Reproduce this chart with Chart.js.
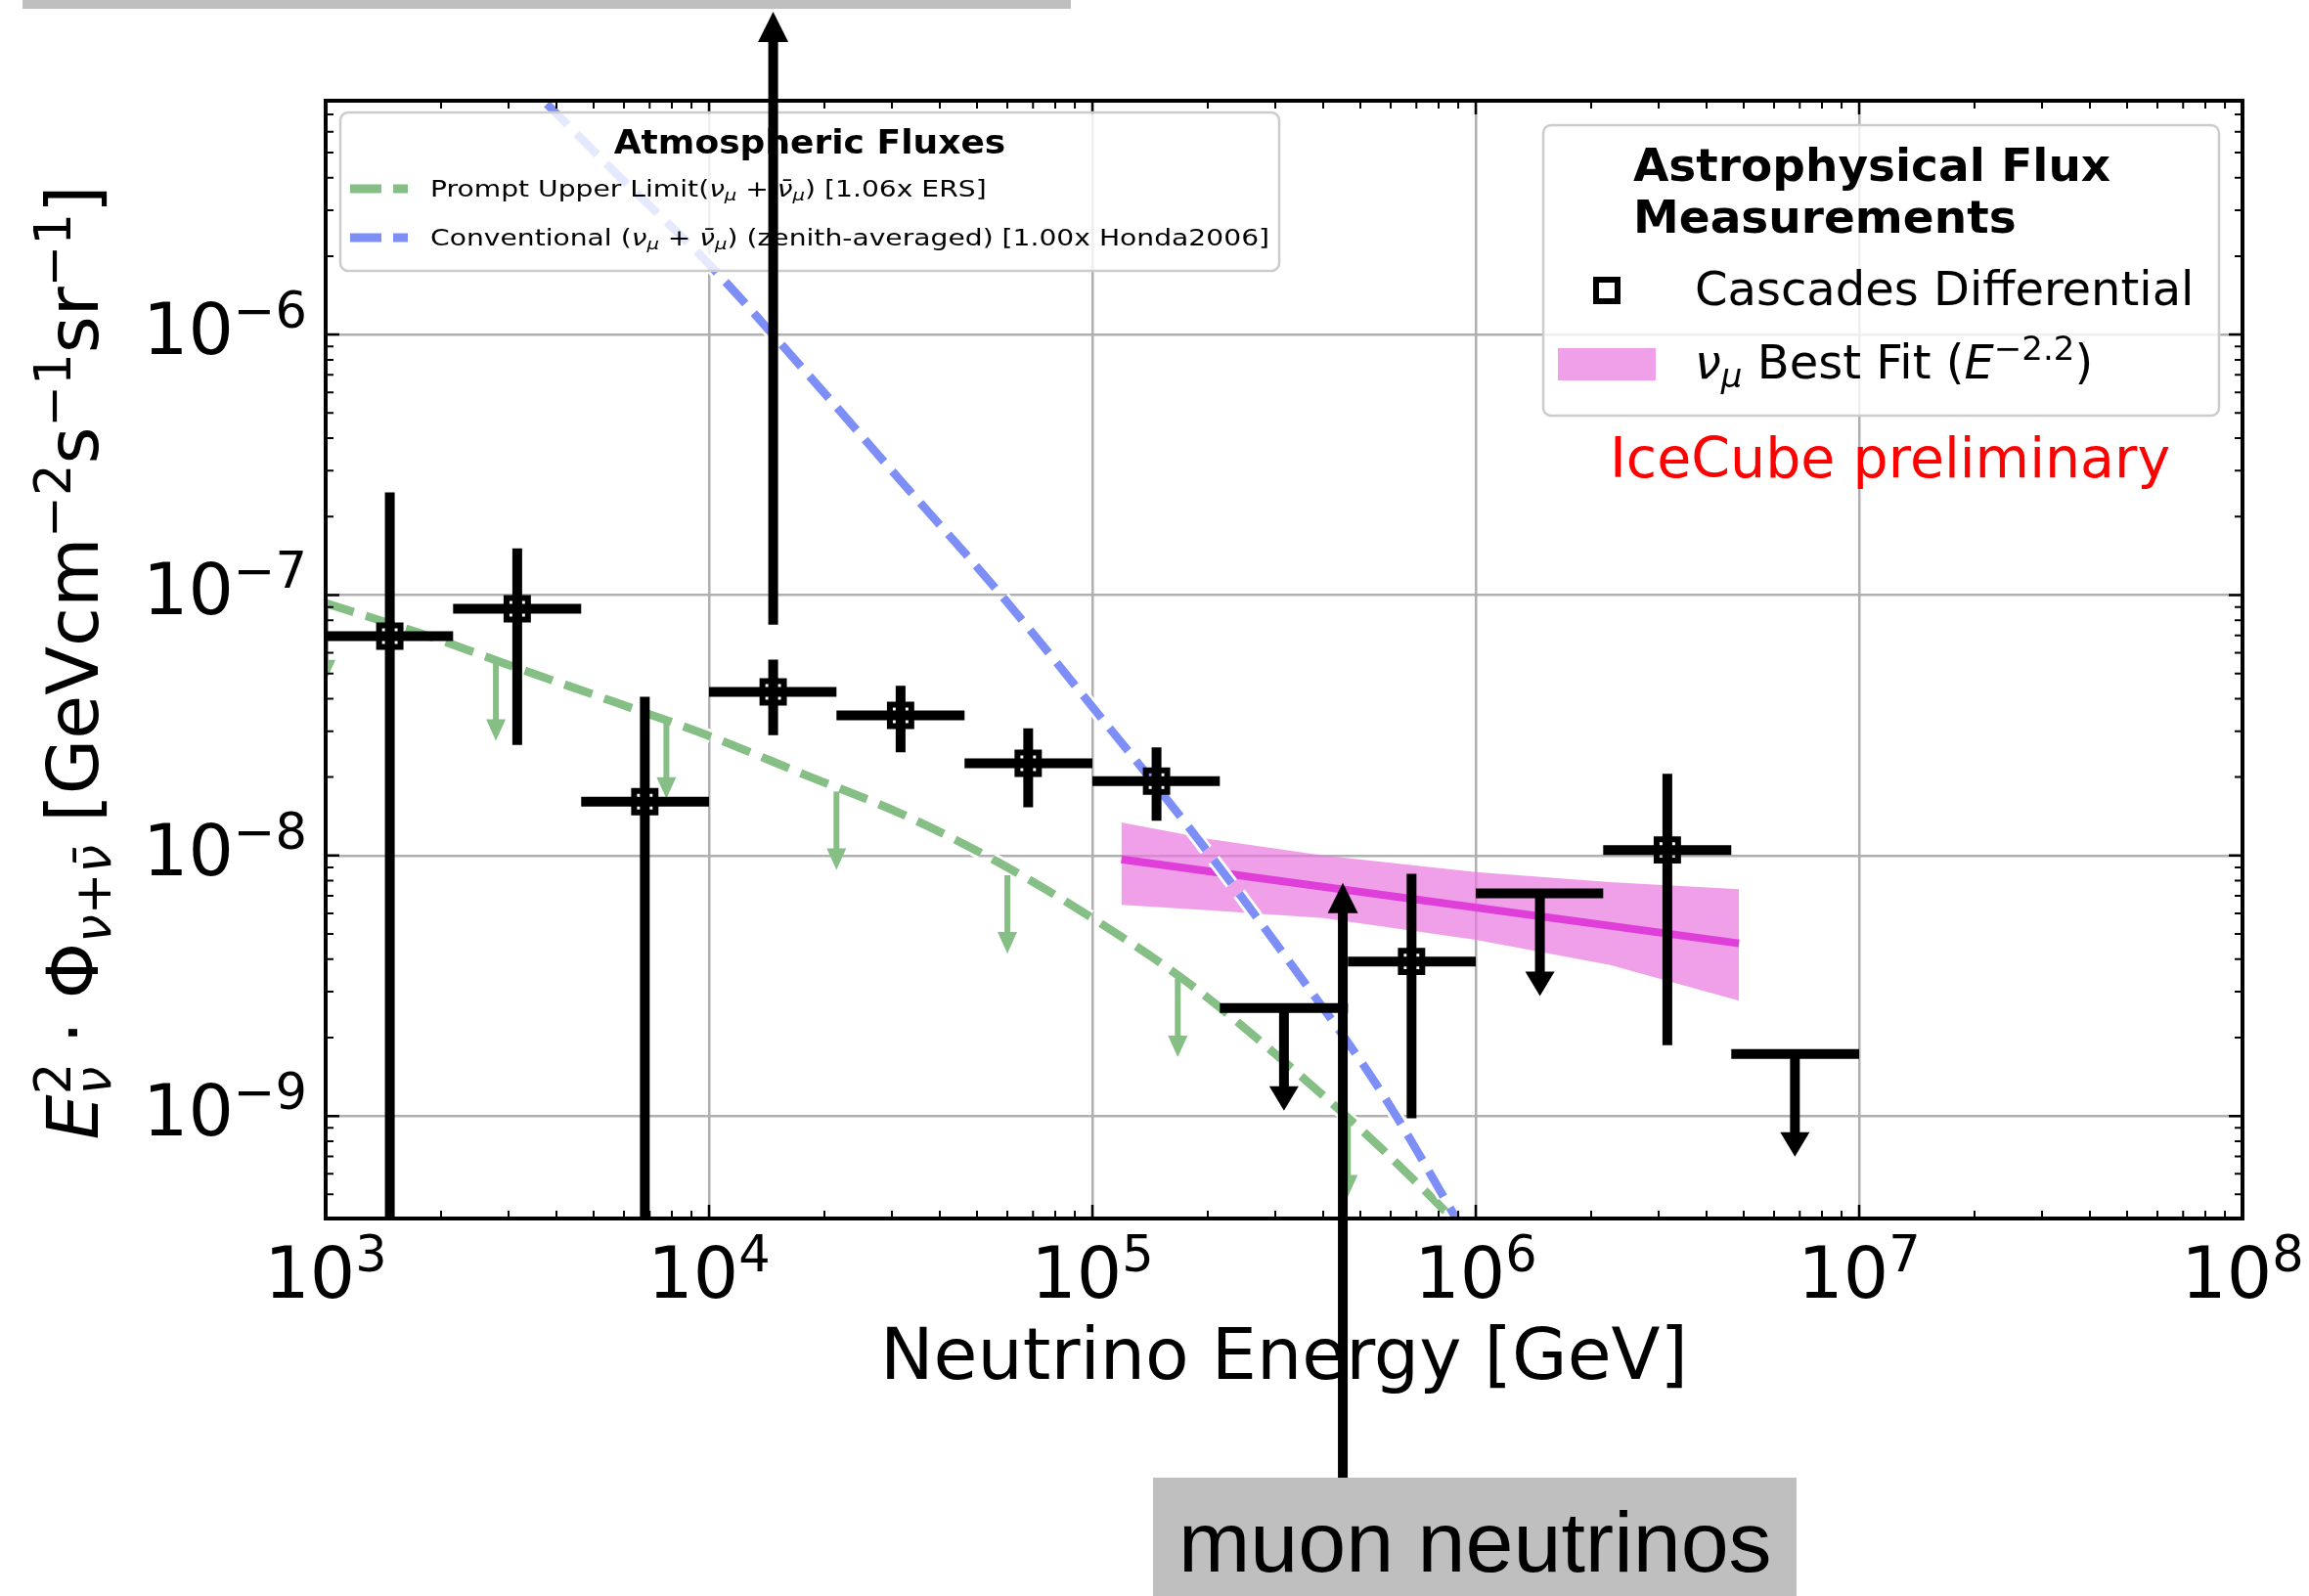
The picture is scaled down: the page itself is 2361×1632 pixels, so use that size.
<!DOCTYPE html>
<html>
<head>
<meta charset="utf-8">
<title>Astrophysical and atmospheric neutrino fluxes</title>
<script src="https://cdn.jsdelivr.net/npm/chart.js@4.4.1/dist/chart.umd.min.js"></script>
<style>
  html, body { margin: 0; padding: 0; background: #fff; }
  canvas { display: block; }
</style>
</head>
<body>
<canvas id="flux-chart" width="2361" height="1632"></canvas>
<script>
// Axis decades and their exponent labels
const xTickValues = [1e3, 1e4, 1e5, 1e6, 1e7, 1e8];
const xTickExponents = ['3', '4', '5', '6', '7', '8'];
const yTickValues = [1e-9, 1e-8, 1e-7, 1e-6];
const yTickExponents = ['\u22129', '\u22128', '\u22127', '\u22126'];

// Prompt atmospheric upper limit (green dashed) and its downward arrows
const promptEnergy = [1.0e3, 1.78e3, 3.16e3, 5.62e3, 1.0e4, 1.78e4, 3.16e4, 5.62e4, 1.0e5, 1.78e5, 3.16e5, 5.62e5, 1.0e6];
const promptFlux = [9.3e-8, 7.1e-8, 5.25e-8, 3.9e-8, 2.88e-8, 2.04e-8, 1.45e-8, 9.5e-9, 5.75e-9, 3.24e-9, 1.62e-9, 7.6e-10, 3.3e-10];
const promptArrowEnergy = [1.0e3, 2.78e3, 7.74e3, 2.15e4, 6.0e4, 1.67e5, 4.64e5];
const promptArrowFlux = [9.3e-8, 5.5e-8, 3.3e-8, 1.76e-8, 8.4e-9, 3.36e-9, 9.8e-10];

// Conventional atmospheric flux (blue dashed)
const convEnergy = [3.16e3, 5.62e3, 1.0e4, 1.78e4, 3.16e4, 5.62e4, 1.0e5, 1.78e5, 3.16e5, 5.62e5, 1.0e6];
const convFlux = [1.0e-5, 4.27e-6, 1.86e-6, 7.24e-7, 2.75e-7, 1.05e-7, 3.72e-8, 1.29e-8, 4.17e-9, 1.26e-9, 3.0e-10];

// nu_mu best fit E^-2.2 with its uncertainty band
const fitBandEnergy = [1.19e5, 2.0e5, 4.0e5, 1.0e6, 2.24e6, 4.86e6];
const fitBandUpper = [1.34e-8, 1.16e-8, 1.0e-8, 8.63e-9, 7.9e-9, 7.43e-9];
const fitBandLower = [6.46e-9, 6.17e-9, 5.75e-9, 4.75e-9, 3.8e-9, 2.77e-9];
const fitLineEnergy = [1.19e5, 4.86e6];
const fitLineFlux = [9.66e-9, 4.6e-9];

// Cascades differential measurement (0 = error bar reaches zero)
const cascEnergy = [1.47e3, 3.16e3, 6.8e3, 1.47e4, 3.16e4, 6.8e4, 1.47e5, 6.8e5, 3.16e6];
const cascFlux = [6.95e-8, 8.86e-8, 1.61e-8, 4.25e-8, 3.45e-8, 2.26e-8, 1.93e-8, 3.92e-9, 1.05e-8];
const cascErrHigh = [2.48e-7, 1.51e-7, 4.07e-8, 5.65e-8, 4.48e-8, 3.08e-8, 2.6e-8, 8.5e-9, 2.06e-8];
const cascErrLow = [0, 2.66e-8, 0, 2.9e-8, 2.49e-8, 1.53e-8, 1.36e-8, 9.8e-10, 1.87e-9];
const cascBinLow = [1e3, 2.15e3, 4.64e3, 1e4, 2.15e4, 4.64e4, 1e5, 4.64e5, 2.15e6];
const cascBinHigh = [2.15e3, 4.64e3, 1e4, 2.15e4, 4.64e4, 1e5, 2.15e5, 1e6, 4.64e6];

// Cascades upper limits
const limitEnergy = [3.16e5, 1.47e6, 6.8e6];
const limitFlux = [2.6e-9, 7.15e-9, 1.73e-9];
const limitBinLow = [2.15e5, 1e6, 4.64e6];
const limitBinHigh = [4.64e5, 2.15e6, 1e7];

// Slide arrows: one up out of the plot, one from the "muon neutrinos" box
const upArrowEnergy = 1.47e4;
const upArrowBaseFlux = 7.7e-8;
const muonArrowEnergy = 4.5e5;
const muonArrowTipFlux = 7.85e-9;

const GREEN = '#86bf86';
const BLUE = '#7d8ff7';
const PINK = 'rgba(232, 120, 222, 0.7)';
const MAGENTA = '#e03ed8';
const GRID = '#b0b0b0';
const FAMILY = '"DejaVu Sans", "Noto Sans", sans-serif';

function font(size, style) {
    return (style ? style + ' ' : '') + size + 'px ' + FAMILY;
}

function run(text, size, style, dy, stay) {
    return { text: text, font: font(size, style), dy: dy || 0, stay: !!stay };
}

function toPoints(xs, ys) {
    return xs.map((x, i) => ({ x: x, y: ys[i] }));
}

// Draw a row of text pieces (for sub/superscripts); stay = do not advance
function drawRuns(ctx, runs, x, y, align, scaleX) {
    const sx = scaleX || 1;
    let total = 0;
    runs.forEach(r => {
        ctx.font = r.font;
        r.w = ctx.measureText(r.text).width;
        if (!r.stay) total += r.w;
    });
    let cx = align === 'center' ? -total / 2 : (align === 'right' ? -total : 0);
    ctx.save();
    ctx.translate(x, y);
    ctx.scale(sx, 1);
    ctx.textAlign = 'left';
    ctx.textBaseline = 'alphabetic';
    runs.forEach(r => {
        ctx.font = r.font;
        ctx.fillText(r.text, cx, r.dy);
        if (!r.stay) cx += r.w;
    });
    ctx.restore();
}

function verticalArrow(ctx, x, y0, y1, lineWidth, headWidth, headLength, color) {
    const dir = Math.sign(y1 - y0);
    ctx.strokeStyle = color;
    ctx.fillStyle = color;
    ctx.lineWidth = lineWidth;
    ctx.lineCap = 'butt';
    ctx.beginPath();
    ctx.moveTo(x, y0);
    ctx.lineTo(x, y1 - dir * headLength * 0.8);
    ctx.stroke();
    ctx.beginPath();
    ctx.moveTo(x, y1);
    ctx.lineTo(x - headWidth / 2, y1 - dir * headLength);
    ctx.lineTo(x + headWidth / 2, y1 - dir * headLength);
    ctx.closePath();
    ctx.fill();
}

function legendBox(ctx, x, y, w, h) {
    ctx.save();
    ctx.beginPath();
    ctx.roundRect(x, y, w, h, 8);
    ctx.fillStyle = 'rgba(255, 255, 255, 0.8)';
    ctx.fill();
    ctx.strokeStyle = '#cccccc';
    ctx.lineWidth = 2.5;
    ctx.stroke();
    ctx.restore();
}

function squareMarker(ctx, x, y) {
    ctx.strokeStyle = '#000';
    ctx.lineWidth = 6;
    ctx.strokeRect(x - 11, y - 11, 22, 22);
}

// Error bars, upper limits and prompt arrows, drawn just under the cascade markers
function drawMeasurements(chart) {
    const ctx = chart.ctx;
    const xs = chart.scales.x;
    const ys = chart.scales.y;
    const area = chart.chartArea;
    ctx.save();
    ctx.beginPath();
    ctx.rect(area.left, area.top, area.right - area.left, area.bottom - area.top);
    ctx.clip();

    promptArrowEnergy.forEach((e, i) => {
        const x = xs.getPixelForValue(e);
        const y = ys.getPixelForValue(promptArrowFlux[i]);
        verticalArrow(ctx, x, y, y + 80, 6, 20, 22, GREEN);
    });

    ctx.strokeStyle = '#000';
    ctx.lineWidth = 10;
    ctx.lineCap = 'butt';
    cascEnergy.forEach((e, i) => {
        const x = xs.getPixelForValue(e);
        const y = ys.getPixelForValue(cascFlux[i]);
        const yHigh = ys.getPixelForValue(cascErrHigh[i]);
        const yLow = cascErrLow[i] > 0 ? ys.getPixelForValue(cascErrLow[i]) : area.bottom + 10;
        ctx.beginPath();
        ctx.moveTo(xs.getPixelForValue(cascBinLow[i]), y);
        ctx.lineTo(xs.getPixelForValue(cascBinHigh[i]), y);
        ctx.moveTo(x, yHigh);
        ctx.lineTo(x, yLow);
        ctx.stroke();
    });

    limitEnergy.forEach((e, i) => {
        const x = xs.getPixelForValue(e);
        const y = ys.getPixelForValue(limitFlux[i]);
        ctx.strokeStyle = '#000';
        ctx.lineWidth = 10;
        ctx.beginPath();
        ctx.moveTo(xs.getPixelForValue(limitBinLow[i]), y);
        ctx.lineTo(xs.getPixelForValue(limitBinHigh[i]), y);
        ctx.stroke();
        verticalArrow(ctx, x, y, y + 105, 10, 30, 25, '#000');
    });
    ctx.restore();
}

function drawFrameAndTicks(chart) {
    const ctx = chart.ctx;
    const xs = chart.scales.x;
    const ys = chart.scales.y;
    const a = chart.chartArea;
    ctx.save();
    ctx.strokeStyle = '#000';
    ctx.lineCap = 'butt';
    for (let d = 3; d <= 8; d++) {
        for (let m = 1; m <= 9; m++) {
            const v = m * Math.pow(10, d);
            if (v > 1e8 * 1.0001) continue;
            const px = xs.getPixelForValue(v);
            const len = m === 1 ? 14 : 8;
            ctx.lineWidth = m === 1 ? 2.5 : 2;
            ctx.beginPath();
            ctx.moveTo(px, a.bottom);
            ctx.lineTo(px, a.bottom - len);
            ctx.moveTo(px, a.top);
            ctx.lineTo(px, a.top + len);
            ctx.stroke();
        }
    }
    for (let d = -10; d <= -6; d++) {
        for (let m = 1; m <= 9; m++) {
            const py = ys.getPixelForValue(m * Math.pow(10, d));
            if (py < a.top || py > a.bottom) continue;
            const len = m === 1 ? 14 : 8;
            ctx.lineWidth = m === 1 ? 2.5 : 2;
            ctx.beginPath();
            ctx.moveTo(a.left, py);
            ctx.lineTo(a.left + len, py);
            ctx.moveTo(a.right, py);
            ctx.lineTo(a.right - len, py);
            ctx.stroke();
        }
    }
    ctx.lineWidth = 4;
    ctx.strokeRect(a.left, a.top, a.right - a.left, a.bottom - a.top);

    ctx.fillStyle = '#000';
    xTickValues.forEach((v, i) => {
        drawRuns(ctx, [run('10', 73), run(xTickExponents[i], 51, '', -27)],
            xs.getPixelForValue(v), a.bottom + 81, 'center');
    });
    yTickValues.forEach((v, i) => {
        drawRuns(ctx, [run('10', 73), run(yTickExponents[i], 51, '', -27)],
            a.left - 19, ys.getPixelForValue(v) + 20, 'right');
    });

    drawRuns(ctx, [run('Neutrino Energy [GeV]', 73)], (a.left + a.right) / 2, a.bottom + 164, 'center');

    const up = -28, dn = 13;
    const yTitle = [
        run('E', 73, 'italic'), run('2', 51, '', up, true), run('\u03bd', 51, 'italic', dn),
        run(' \u00b7 ', 73), run('\u03a6', 73),
        run('\u03bd', 51, 'italic', dn), run('+', 51, '', dn), run('\u03bd\u0304', 51, 'italic', dn),
        run(' [GeVcm', 73), run('\u22122', 51, '', up), run('s', 73), run('\u22121', 51, '', up),
        run('sr', 73), run('\u22121', 51, '', up), run(']', 73)
    ];
    ctx.save();
    ctx.translate(a.left - 233, (a.top + a.bottom) / 2 + 3);
    ctx.rotate(-Math.PI / 2);
    drawRuns(ctx, yTitle, 0, 0, 'center');
    ctx.restore();
    ctx.restore();
}

function drawLegends(chart) {
    const ctx = chart.ctx;
    ctx.save();

    // Atmospheric fluxes
    legendBox(ctx, 348, 115, 960, 162);
    ctx.fillStyle = '#000';
    drawRuns(ctx, [run('Atmospheric Fluxes', 34, 'bold')], 828, 157, 'center', 1.06);
    const mu = () => [run('\u03bd', 23, 'italic'), run('\u03bc', 16, 'italic', 4),
        run(' + ', 23), run('\u03bd\u0304', 23, 'italic'), run('\u03bc', 16, 'italic', 4)];
    [[GREEN, 193, 'Prompt Upper Limit(', ') [1.06x ERS]'],
     [BLUE, 243, 'Conventional (', ') (zenith-averaged) [1.00x Honda2006]']].forEach(row => {
        ctx.strokeStyle = row[0];
        ctx.lineWidth = 9;
        ctx.setLineDash([32, 12]);
        ctx.beginPath();
        ctx.moveTo(358, row[1]);
        ctx.lineTo(417, row[1]);
        ctx.stroke();
        ctx.setLineDash([]);
        ctx.fillStyle = '#000';
        drawRuns(ctx, [run(row[2], 23)].concat(mu(), [run(row[3], 23)]), 440, row[1] + 8, 'left', 1.225);
    });

    // Astrophysical flux measurements
    legendBox(ctx, 1578, 128, 691, 297);
    ctx.fillStyle = '#000';
    drawRuns(ctx, [run('Astrophysical Flux', 47, 'bold')], 1670, 185, 'left');
    drawRuns(ctx, [run('Measurements', 47, 'bold')], 1670, 238, 'left');
    squareMarker(ctx, 1643, 297);
    drawRuns(ctx, [run('Cascades Differential', 48)], 1733, 312, 'left');
    ctx.fillStyle = PINK;
    ctx.fillRect(1593, 356, 100, 33);
    ctx.fillStyle = '#000';
    drawRuns(ctx, [run('\u03bd', 48, 'italic'), run('\u03bc', 34, 'italic', 9), run(' Best Fit (', 48),
        run('E', 48, 'italic'), run('\u22122.2', 34, '', -19), run(')', 48)], 1733, 387, 'left');

    ctx.fillStyle = '#ff0000';
    drawRuns(ctx, [run('IceCube preliminary', 57)], 1646, 488, 'left');
    ctx.restore();
}

function drawSlideNotes(chart) {
    const ctx = chart.ctx;
    const xs = chart.scales.x;
    const ys = chart.scales.y;
    ctx.save();
    ctx.fillStyle = '#bfbfbf';
    ctx.fillRect(23, 0, 1072, 9);
    ctx.fillRect(1179, 1511, 658, 121);
    ctx.fillStyle = '#000';
    ctx.font = '88px "Liberation Sans", Arial, sans-serif';
    ctx.textBaseline = 'alphabetic';
    ctx.fillText('muon neutrinos', 1205, 1607);

    verticalArrow(ctx, xs.getPixelForValue(upArrowEnergy), ys.getPixelForValue(upArrowBaseFlux), 12, 10, 31, 31, '#000');
    verticalArrow(ctx, xs.getPixelForValue(muonArrowEnergy), 1511, ys.getPixelForValue(muonArrowTipFlux), 10, 31, 31, '#000');
    ctx.restore();
}

const fluxPlugin = {
    id: 'fluxDecorations',
    beforeDatasetDraw(chart, args) {
        if (chart.data.datasets[args.index].label === 'Cascades Differential') {
            drawMeasurements(chart);
        }
    },
    afterDatasetsDraw(chart) {
        drawFrameAndTicks(chart);
        drawLegends(chart);
        drawSlideNotes(chart);
    }
};

const dashed = { borderDash: [30, 13], pointRadius: 0, showLine: true, cubicInterpolationMode: 'monotone', fill: false };

new Chart(document.getElementById('flux-chart'), {
    type: 'scatter',
    data: {
        datasets: [
            {
                label: 'bandUpper', data: toPoints(fitBandEnergy, fitBandUpper), showLine: true,
                borderWidth: 0, pointRadius: 0, backgroundColor: PINK, fill: { target: 1 }, order: 8
            },
            {
                label: 'bandLower', data: toPoints(fitBandEnergy, fitBandLower), showLine: true,
                borderWidth: 0, pointRadius: 0, fill: false, order: 9
            },
            {
                label: 'Best Fit', data: toPoints(fitLineEnergy, fitLineFlux), showLine: true,
                borderColor: MAGENTA, borderWidth: 8, pointRadius: 0, fill: false, order: 7
            },
            Object.assign({ label: 'promptHalo', data: toPoints(promptEnergy, promptFlux), borderColor: '#fff', borderWidth: 14, order: 6 }, dashed),
            Object.assign({ label: 'Prompt', data: toPoints(promptEnergy, promptFlux), borderColor: GREEN, borderWidth: 8.5, order: 5 }, dashed),
            Object.assign({ label: 'convHalo', data: toPoints(convEnergy, convFlux), borderColor: '#fff', borderWidth: 14, order: 4 }, dashed),
            Object.assign({ label: 'Conventional', data: toPoints(convEnergy, convFlux), borderColor: BLUE, borderWidth: 8.5, order: 3 }, dashed),
            {
                label: 'Cascades Differential', data: toPoints(cascEnergy, cascFlux),
                pointStyle: 'rect', pointRadius: 15.5, borderWidth: 6,
                borderColor: '#000', backgroundColor: 'rgba(0,0,0,0)', order: 0
            }
        ]
    },
    options: {
        responsive: false,
        devicePixelRatio: 1,
        animation: false,
        events: [],
        layout: { padding: { left: 333, top: 103, right: 68, bottom: 386 } },
        plugins: { legend: { display: false }, tooltip: { enabled: false } },
        scales: {
            x: {
                type: 'logarithmic', min: 1e3, max: 1e8,
                afterBuildTicks: (axis) => { axis.ticks = xTickValues.map(v => ({ value: v })); },
                ticks: { display: false },
                grid: { color: GRID, lineWidth: 2.5, drawTicks: false },
                border: { display: false }
            },
            y: {
                type: 'logarithmic', min: 4.04e-10, max: 7.9e-6,
                afterBuildTicks: (axis) => { axis.ticks = yTickValues.map(v => ({ value: v })); },
                ticks: { display: false },
                grid: { color: GRID, lineWidth: 2.5, drawTicks: false },
                border: { display: false }
            }
        }
    },
    plugins: [fluxPlugin]
});
</script>
</body>
</html>
